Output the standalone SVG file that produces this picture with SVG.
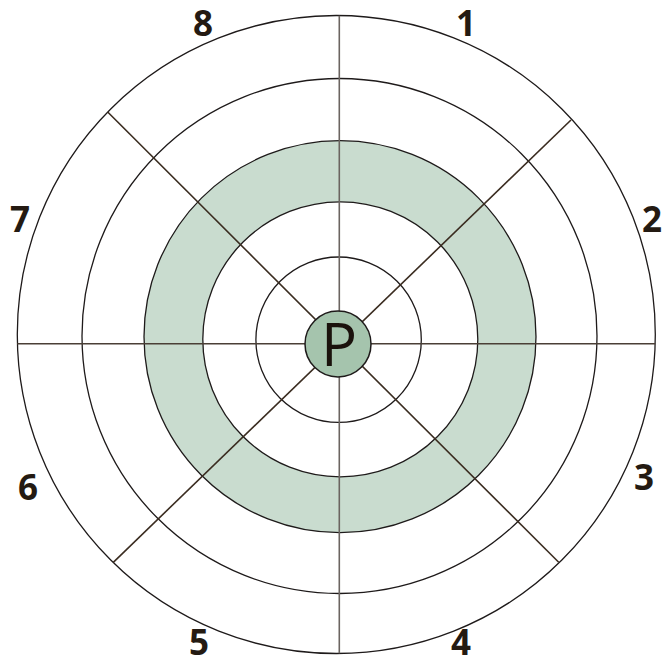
<svg xmlns="http://www.w3.org/2000/svg" width="663" height="664" viewBox="0 0 663 664">
<style>
.ring{fill:none;stroke:#1e1a1a;stroke-width:1.3}
.band{fill:#c9dccf;stroke:#1e1a1a;stroke-width:1.3}
.hole{fill:#ffffff;stroke:#1e1a1a;stroke-width:1.3}
.diag{stroke:#3a2c20;stroke-width:1.6}
.lbl{font-family:"Open Sans","Liberation Sans",sans-serif;font-weight:700;font-size:35px;fill:#241a12;text-anchor:middle}
</style>
<rect width="663" height="664" fill="#ffffff"/>
<g id="rings">
<circle class="ring" cx="336.3" cy="334.5" r="319"/>
<circle class="ring" cx="339.5" cy="336" r="257.5"/>
<circle class="band" cx="340" cy="336.7" r="196"/>
<circle class="hole" cx="340.3" cy="339.3" r="137.5"/>
<circle class="ring" cx="338.6" cy="339.7" r="82.7"/>
</g>
<g id="connectors">
<line x1="17.3" y1="343.7" x2="655.3" y2="343.7" stroke="#4a3f36" stroke-width="1.6"/>
<line x1="339.3" y1="15.7" x2="339.3" y2="653.3" stroke="#6b6460" stroke-width="1.6"/>
<line class="diag" x1="107.7" y1="112" x2="558.7" y2="562.3"/>
<line class="diag" x1="571" y1="120" x2="113.3" y2="562.3"/>
</g>
<g id="node-P">
<circle cx="338" cy="344" r="33" fill="#a5c4ad" stroke="#1e1a1a" stroke-width="1.5"/>
<text x="339" y="366" font-family="Open Sans, Liberation Sans, sans-serif" font-size="60" fill="#1a120c" text-anchor="middle">P</text>
</g>
<g id="labels">
<text class="lbl" x="203" y="36">8</text>
<text class="lbl" x="466" y="36">1</text>
<text class="lbl" x="652" y="232">2</text>
<text class="lbl" x="20" y="232">7</text>
<text class="lbl" x="644" y="490">3</text>
<text class="lbl" x="28" y="500">6</text>
<text class="lbl" x="199" y="655">5</text>
<text class="lbl" x="461" y="655">4</text>
</g>
</svg>
